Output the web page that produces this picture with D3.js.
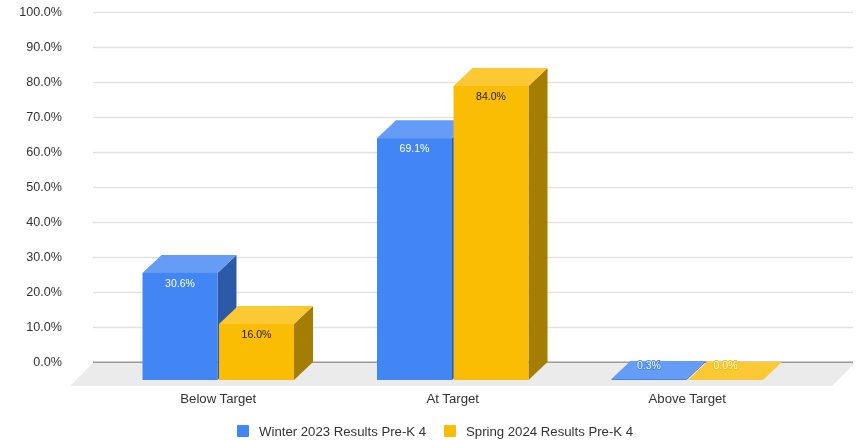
<!DOCTYPE html>
<html>

<head>
    <meta charset="utf-8">
    <title>results</title>
    <style>
    html, body { margin: 0; padding: 0; background: #fff; }
    svg { display: block; filter: blur(0.5px); }
    text { font-family: "Liberation Sans", Arial, sans-serif; fill: #333; }
    </style>
</head>

<body>
    <svg class="chart"></svg>
    <script src="https://cdn.jsdelivr.net/npm/d3@7"></script>
    <script type="text/javascript">
    var categories = ["Below Target", "At Target", "Above Target"];
    var seriesNames = ["Winter 2023 Results Pre-K 4", "Spring 2024 Results Pre-K 4"];
    var winter = [30.6, 69.1, 0.3];
    var spring = [16.0, 84.0, 0.0];
    var yTicks = [0, 10, 20, 30, 40, 50, 60, 70, 80, 90, 100];

    var seriesValues = [winter, spring];
    var front = ["#4285f4", "#fbbc04"];
    var topFace = ["#659df6", "#fcc934"];
    var side = ["#2c5aa8", "#a67d03"];
    var labelFill = ["#fff", "#222"];

    var width = 859,
        height = 440,
        depthX = 19,
        depthY = 18;

    var svg = d3.select(".chart").attr("width", width).attr("height", height);

    var y = d3.scaleLinear().domain([0, 100]).range([362, 12]);
    var x0 = d3.scaleBand().domain(categories).range([101, 804.5]);
    var x1 = d3.scaleBand().domain(d3.range(seriesNames.length)).range([41.5, 193]).paddingInner(0.02);

    // gridlines + y labels
    var yAxis = d3.axisLeft(y)
        .tickValues(yTicks)
        .tickSize(760)
        .tickPadding(31)
        .tickFormat(function(d) { return d3.format(".1f")(d) + "%"; });

    var yG = svg.append("g").attr("transform", "translate(853,0)").call(yAxis);
    yG.select(".domain").remove();
    yG.selectAll(".tick line").attr("stroke", function(d) { return d === 0 ? "#999" : "#e2e2e2"; })
        .attr("stroke-width", function(d) { return d === 0 ? 2 : 1.3; });
    yG.selectAll(".tick text").attr("font-size", 12.6).attr("fill", "#333").attr("dy", "0.25em");

    // floor
    var floorLeft = x0.range()[0] - 8;
    var floorRight = x0.range()[1] + 48.5;
    svg.append("path")
        .attr("fill", "#ebebeb")
        .attr("d", d3.line()([
            [floorLeft, y(0) + 1],
            [floorRight + 2, y(0) + 1],
            [floorRight - 21, y(0) + 24],
            [floorLeft - 23, y(0) + 24]
        ]) + "Z");

    function xPos(c, s) {
        return x0(categories[c]) + x1(s);
    }

    seriesValues.forEach(function(values, s) {
        var g = svg.append("g");
        values.forEach(function(v, c) {
            var left = xPos(c, s),
                right = left + x1.bandwidth(),
                top = y(v) + depthY,
                bottom = y(0) + depthY;

            // side face
            g.append("path").attr("fill", side[s])
                .attr("d", d3.line()([
                    [right, top], [right + depthX, top - depthY],
                    [right + depthX, bottom - depthY], [right, bottom]
                ]) + "Z");
            // top face
            g.append("path").attr("fill", topFace[s])
                .attr("d", d3.line()([
                    [left, top], [left + depthX, top - depthY],
                    [right + depthX, top - depthY], [right, top]
                ]) + "Z");
            // front face
            g.append("rect").attr("fill", front[s])
                .attr("x", left).attr("y", top)
                .attr("width", right - left).attr("height", bottom - top);
        });
    });

    // bar labels go on top of every face
    seriesValues.forEach(function(values, s) {
        values.forEach(function(v, c) {
            var small = y(0) - y(v) < 5;
            var t = svg.append("text")
                .attr("x", xPos(c, s) + x1.bandwidth() / 2)
                .attr("y", small ? y(0) + 3 : y(v) + depthY + 10)
                .attr("dy", "0.35em")
                .attr("text-anchor", "middle")
                .attr("font-size", 10.5)
                .style("fill", small ? "#fff" : labelFill[s])
                .text(d3.format(".1f")(v) + "%");
            if (small) {
                t.attr("stroke", front[s]).attr("stroke-width", 1.8).attr("paint-order", "stroke");
            }
        });
    });

    // category labels
    var xAxis = d3.axisBottom(x0).tickSize(0).tickPadding(0);
    var xG = svg.append("g").attr("transform", "translate(0,394)").call(xAxis);
    xG.select(".domain").remove();
    xG.selectAll(".tick text").attr("font-size", 13.2).attr("fill", "#333");

    // legend
    var legendX = d3.scalePoint().domain(seriesNames).range([237, 444]);
    var legend = svg.selectAll(".legend")
        .data(seriesNames)
        .enter()
        .append("g")
        .attr("class", "legend")
        .attr("transform", function(d) { return "translate(" + legendX(d) + ",425)"; });
    legend.append("rect")
        .attr("width", 12).attr("height", 12).attr("rx", 1)
        .attr("fill", function(d, i) { return front[i]; });
    legend.append("text")
        .attr("x", 22).attr("y", 6).attr("dy", "0.35em")
        .attr("font-size", 13.2)
        .text(function(d) { return d; });
    </script>
</body>

</html>
